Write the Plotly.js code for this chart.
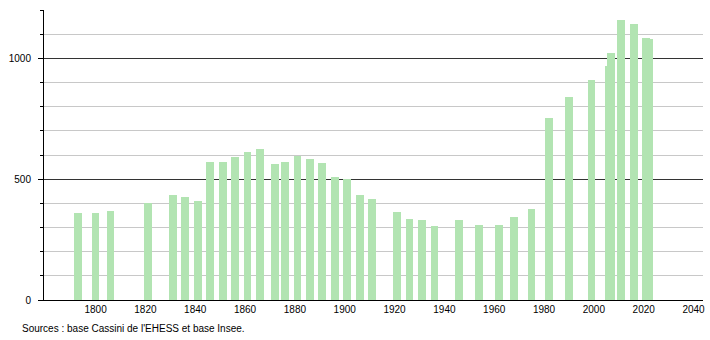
<!DOCTYPE html>
<html>
<head>
<meta charset="utf-8">
<script src="https://cdn.plot.ly/plotly-3.0.1.min.js"></script>
<style>html,body{margin:0;padding:0;background:#fff;}#chart{width:710px;height:340px;}</style>
</head>
<body>
<div id="chart"></div>
<script>
const years = [1793, 1800, 1806, 1821, 1831, 1836, 1841, 1846, 1851, 1856, 1861, 1866,
  1872, 1876, 1881, 1886, 1891, 1896, 1901, 1906, 1911, 1921, 1926, 1931, 1936,
  1946, 1954, 1962, 1968, 1975, 1982, 1990, 1999, 2006, 2007, 2011, 2016, 2021, 2022];
const population = [360, 360, 369, 401, 436, 426, 411, 571, 571, 593, 614, 625,
  564, 573, 597, 584, 567, 509, 501, 434, 418, 365, 336, 333, 307,
  332, 311, 311, 344, 378, 755, 838, 909, 968, 1021, 1158, 1141, 1083, 1079];
const xTicks = [1800, 1820, 1840, 1860, 1880, 1900, 1920, 1940, 1960, 1980, 2000, 2020, 2040];
const yTicks = [0, 500, 1000];
const sourceText = "Sources : base Cassini de l'EHESS et base Insee.";

const font = {family: 'Liberation Sans, Arial, sans-serif', size: 10, color: '#000'};

Plotly.newPlot('chart', [{
  type: 'bar',
  x: years,
  y: population,
  width: years.map(() => 3.1),
  marker: {color: 'rgb(178,228,178)', line: {width: 0}},
  hoverinfo: 'x+y'
}], {
  width: 710, height: 340,
  margin: {l: 44, r: 7, t: 10, b: 40},
  paper_bgcolor: '#fff', plot_bgcolor: '#fff',
  font: font,
  showlegend: false,
  bargap: 0,
  xaxis: {
    range: [1779.3, 2043.8],
    tickvals: xTicks,
    ticktext: xTicks.map(String),
    ticks: '',
    showgrid: false,
    zeroline: false,
    showline: true, linecolor: '#000', linewidth: 1,
    tickfont: font,
    fixedrange: true
  },
  yaxis: {
    range: [0, 1200],
    tickvals: yTicks,
    ticktext: yTicks.map(String),
    ticks: 'outside', ticklen: 5, tickcolor: '#000', tickwidth: 1,
    ticklabelstandoff: 5,
    showgrid: true, gridcolor: '#333', gridwidth: 1,
    minor: {dtick: 100, tick0: 0, showgrid: true, gridcolor: '#c8c8c8', gridwidth: 1,
            ticks: 'outside', ticklen: 3, tickcolor: '#000'},
    zeroline: false,
    showline: true, linecolor: '#000', linewidth: 1,
    tickfont: font,
    fixedrange: true
  },
  annotations: [{
    xref: 'paper', yref: 'paper',
    x: -0.0364, y: -0.0966,
    xanchor: 'left', yanchor: 'middle',
    text: sourceText, showarrow: false,
    font: font
  }]
}, {displayModeBar: false, staticPlot: true});
</script>
</body>
</html>
